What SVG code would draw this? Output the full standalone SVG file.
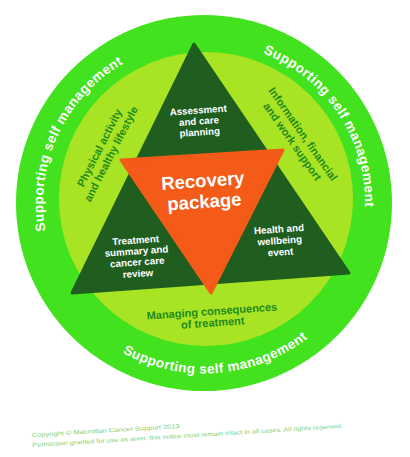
<svg xmlns="http://www.w3.org/2000/svg" width="410" height="457" viewBox="0 0 410 457">
<style>
  .w { fill:#ffffff; font-family:"Liberation Sans", Arial, sans-serif; font-weight:bold; text-anchor:middle; }
  .g { fill:#1f8a1c; font-family:"Liberation Sans", Arial, sans-serif; font-weight:bold; text-anchor:middle; font-size:11px; }
  .ring { fill:#ffffff; font-family:"Liberation Sans", Arial, sans-serif; font-weight:bold; font-size:13.5px; letter-spacing:0.4px; text-anchor:middle; }
  .copy { fill:#7ccf74; font-family:"Liberation Sans", Arial, sans-serif; font-size:6px; }
</style>
<defs>
  <path id="arcTL" d="M58.1,271 A161,161 0 0 1 162.3,47.5"/>
  <path id="arcTR" d="M222.2,43 A161,161 0 0 1 358.4,248.7"/>
  <path id="arcB" d="M82.4,322.5 A170.5,170.5 0 0 0 342.8,302"/>
</defs>
<rect width="410" height="457" fill="#ffffff"/>

<g id="outer-ring">
  <circle cx="204" cy="203" r="188" fill="#43e21f"/>
  <text class="ring"><textPath href="#arcTL" startOffset="50%">Supporting self management</textPath></text>
  <text class="ring"><textPath href="#arcTR" startOffset="50%">Supporting self management</textPath></text>
  <text class="ring"><textPath href="#arcB" startOffset="50%">Supporting self management</textPath></text>
</g>

<g id="inner-ring">
  <circle cx="206" cy="199" r="147" fill="#a9e424"/>
  <g transform="translate(105.5,151) rotate(-63)">
    <text class="g" x="0" y="-3">Physical activity</text>
    <text class="g" x="0" y="10">and healthy lifestyle</text>
  </g>
  <g transform="translate(297.5,138) rotate(55)">
    <text class="g" x="0" y="-3">Information, financial</text>
    <text class="g" x="0" y="10">and work support</text>
  </g>
  <g transform="translate(212.5,320) rotate(-4)">
    <text class="g" x="0" y="-5">Managing consequences</text>
    <text class="g" x="0" y="6.5">of treatment</text>
  </g>
</g>

<g id="main-triangle">
  <polygon points="194,44 72,293 349,273" fill="#1f5e1f" stroke="#1f5e1f" stroke-width="3" stroke-linejoin="round"/>
</g>

<g id="assessment">
  <g transform="translate(199,122) rotate(-4)">
    <text class="w" font-size="9.7" x="0" y="-8.5">Assessment</text>
    <text class="w" font-size="9.7" x="0" y="2.5">and care</text>
    <text class="w" font-size="9.7" x="0" y="13.5">planning</text>
  </g>
</g>

<g id="treatment">
  <g transform="translate(137,259) rotate(-4)">
    <text class="w" font-size="9.8" x="0" y="-15.5">Treatment</text>
    <text class="w" font-size="9.8" x="0" y="-4.5">summary and</text>
    <text class="w" font-size="9.8" x="0" y="6.5">cancer care</text>
    <text class="w" font-size="9.8" x="0" y="18">review</text>
  </g>
</g>

<g id="health">
  <g transform="translate(280,244) rotate(-4)">
    <text class="w" font-size="9.8" x="0" y="-11.5">Health and</text>
    <text class="w" font-size="9.8" x="0" y="0">wellbeing</text>
    <text class="w" font-size="9.8" x="0" y="11.5">event</text>
  </g>
</g>

<g id="recovery-package">
  <polygon points="121,160 283,150 211,293" fill="#f45a18" stroke="#f45a18" stroke-width="3" stroke-linejoin="round"/>
  <g transform="translate(204,197) rotate(-4)">
    <text class="w" font-size="18.5" x="0" y="-10">Recovery</text>
    <text class="w" font-size="18.5" x="0" y="11">package</text>
  </g>
</g>

<g id="connectors"></g>

<g id="copyright" transform="translate(32,437) rotate(-3.5)">
  <text class="copy" x="0" y="0" textLength="148" lengthAdjust="spacingAndGlyphs">Copyright © Macmillan Cancer Support 2013</text>
  <text class="copy" x="0" y="10" textLength="311" lengthAdjust="spacingAndGlyphs">Permission granted for use as seen, this notice must remain intact in all cases. All rights reserved.</text>
</g>
</svg>
